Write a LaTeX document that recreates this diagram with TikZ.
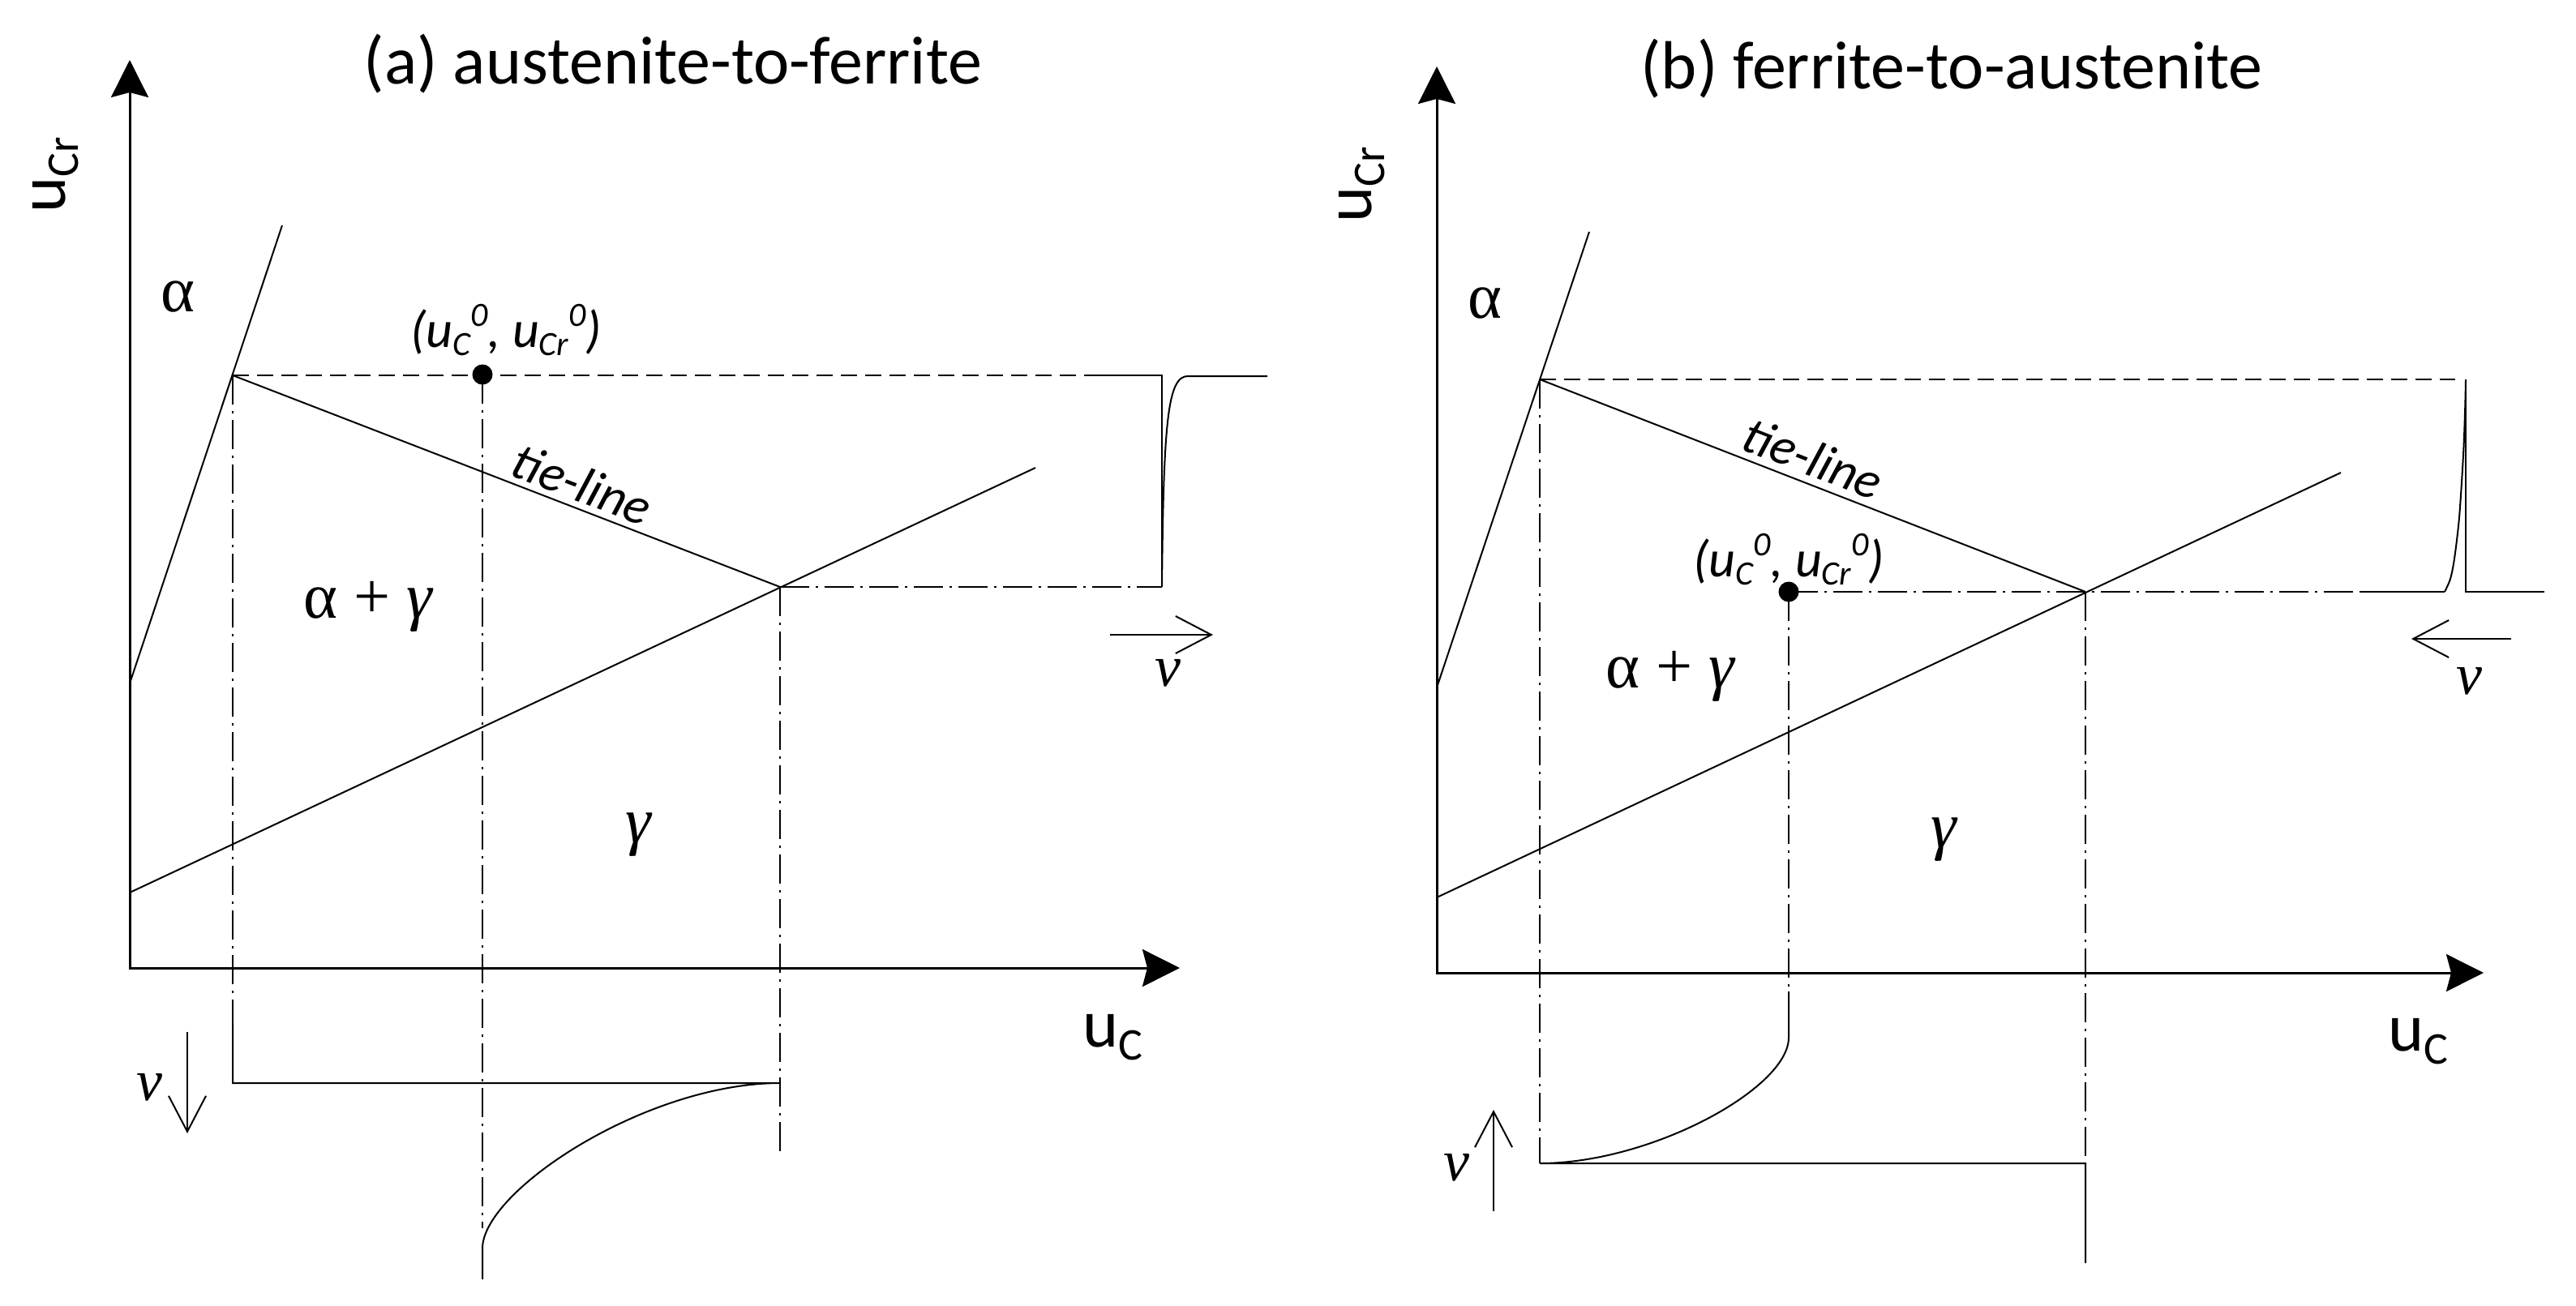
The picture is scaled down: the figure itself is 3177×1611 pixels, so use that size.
\documentclass[tikz,border=0pt]{standalone}
\usepackage{fontspec}
\setmainfont{Carlito}
\newfontfamily\grk{Liberation Serif}
\usetikzlibrary{arrows.meta}
\newcommand{\axU}[1]{u\raisebox{-16pt}{\fontsize{56}{60}\selectfont #1}}
\newcommand{\lsub}[1]{\raisebox{-10pt}{\fontsize{42}{44}\selectfont #1}}
\newcommand{\lsup}[1]{\raisebox{26pt}{\fontsize{42}{44}\selectfont #1}}
\newcommand{\ptlab}{(u\lsub{C}\lsup{0}, u\lsub{Cr}\lsup{0})}
\newcommand{\gam}{{\itshape γ}}
\begin{document}
\begin{tikzpicture}[x=1pt,y=-1pt,
  axis/.style={line width=3pt,{Stealth[length=46pt,width=46pt,inset=6pt]}-{Stealth[length=46pt,width=46pt,inset=6pt]}},
  thinln/.style={line width=2pt},
  dashln/.style={line width=1.8pt,dash pattern=on 20pt off 10pt},
  dd/.style={line width=1.8pt,dash pattern=on 36pt off 8pt on 3pt off 8pt},
  varrow/.style={line width=2pt,-{Straight Barb[length=44pt,width=46pt]}},
  title/.style={font=\fontsize{84}{90}\selectfont,anchor=base,inner sep=0pt},
  axlab/.style={font=\fontsize{84}{90}\selectfont,inner sep=0pt},
  ptl/.style={font=\fontsize{64}{70}\selectfont\itshape,inner sep=0pt},
  phase/.style={font=\fontsize{80}{86}\selectfont\grk,inner sep=0pt},
  vlab/.style={font=\fontsize{72}{78}\selectfont\grk\itshape,inner sep=0pt},
  dot/.style={circle,fill=black,minimum size=25pt,inner sep=0pt}]
\fill[white] (0,0) rectangle (3177,1611);
\useasboundingbox (0,0) rectangle (3177,1611);

% ---------------- panel (a) ----------------
\node[title] (aTitle) at (830,103) {(a) austenite-to-ferrite};
\coordinate (aO) at (160,1194);
\coordinate (aY) at (160,74);
\coordinate (aX) at (1455,1194);
\coordinate (aS1) at (348,278);
\coordinate (aS2) at (160,843);
\coordinate (aG1) at (1277,577);
\coordinate (aG2) at (160,1101);
\coordinate (aP1) at (287,463);
\coordinate (aP2) at (962,724);
\coordinate (aT1) at (1346,463);
\coordinate (aT2) at (1433,463);
\coordinate (aT3) at (1433,724);
\coordinate (aT4) at (1465,464);
\coordinate (aT5) at (1563,464);
\coordinate (aB1) at (287,1262);
\coordinate (aB2) at (287,1336);
\coordinate (aB3) at (962,1336);
\coordinate (aB4) at (595,1540);
\coordinate (aB5) at (595,1578);
\coordinate (aB6) at (595,1515);
\coordinate (aB7) at (962,1423);
\coordinate (aV1s) at (231,1273);
\coordinate (aV1e) at (231,1398);
\coordinate (aV2s) at (1369,783);
\coordinate (aV2e) at (1496,783);
\node[dot] (aDot) at (595,462) {};

\draw[axis] (aY) -- (aO) -- (aX);
\draw[thinln] (aS1) -- (aS2);
\draw[thinln] (aG1) -- (aG2);
\draw[thinln] (aP1) -- (aP2);
\draw[dashln] (aP1) -- (aT1);
\draw[thinln] (aT1) -- (aT2) -- (aT3);
\draw[thinln] (aT3) .. controls (1435,520) and (1440,464) .. (aT4) -- (aT5);
\draw[dd] (aP2) -- (aT3);
\draw[dd] (aP1) -- (aB1);
\draw[thinln] (aB1) -- (aB2) -- (aB3) .. controls (797,1336) and (595,1469) .. (aB4) -- (aB5);
\draw[dd] (aDot.center) -- (aB6);
\draw[dd] (aP2) -- (aB7);
\draw[varrow] (aV1s) -- (aV1e);
\draw[varrow] (aV2s) -- (aV2e);

\node[axlab,rotate=90] (aUCr) at (69,216) {\axU{Cr}};
\node[axlab] (aUC) at (1372,1280) {\axU{C}};
\node[phase] (aAlpha) at (219,366) {α};
\node[phase] (aAG) at (454,748) {α + \gam};
\node[phase] (aGamma) at (787,1030) {\gam};
\node[ptl] (aPt) at (624,407) {\ptlab};
\node[ptl,rotate=-21.1] (aTie) at (718,597) {tie-line};
\node[vlab] (aV1) at (184,1341) {v};
\node[vlab] (aV2) at (1440,830) {v};

% ---------------- panel (b) ----------------
\node[title] (bTitle) at (2407,109) {(b) ferrite-to-austenite};
\coordinate (bO) at (1772,1200);
\coordinate (bY) at (1772,82);
\coordinate (bX) at (3063,1200);
\coordinate (bS1) at (1960,286);
\coordinate (bS2) at (1772,848);
\coordinate (bG1) at (2887,583);
\coordinate (bG2) at (1772,1107);
\coordinate (bP1) at (1899,468);
\coordinate (bP2) at (2572,730);
\coordinate (bT0) at (3028,468);
\coordinate (bT1) at (3041,468);
\coordinate (bT2) at (3041,730);
\coordinate (bT3) at (3138,730);
\coordinate (bT4) at (2913,730);
\coordinate (bT5) at (3015,730);
\coordinate (bB1) at (1899,1435);
\coordinate (bB2) at (2206,1223);
\coordinate (bB3) at (2206,1280);
\coordinate (bB4) at (2572,1435);
\coordinate (bB5) at (2572,1558);
\coordinate (bV1s) at (1842,1494);
\coordinate (bV1e) at (1842,1369);
\coordinate (bV2s) at (3097,788);
\coordinate (bV2e) at (2974,788);
\node[dot] (bDot) at (2206,730) {};

\draw[axis] (bY) -- (bO) -- (bX);
\draw[thinln] (bS1) -- (bS2);
\draw[thinln] (bG1) -- (bG2);
\draw[thinln] (bP1) -- (bP2);
\draw[dashln] (bP1) -- (bT0);
\draw[thinln] (bT1) -- (bT2) -- (bT3);
\draw[dd] (bDot.center) -- (bT4);
\draw[thinln] (bT4) -- (bT5);
\draw[thinln] plot[smooth] coordinates {(3015,730) (3022,714) (3027,689) (3033,638) (3038,561) (3040,510) (3041,469)};
\draw[dd] (bP1) -- (bB1);
\draw[dd] (bDot.center) -- (bB2);
\draw[dd] (bP2) -- (bB4);
\draw[thinln] (bB2) -- (bB3) .. controls (2206,1342) and (2037,1435) .. (bB1) -- (bB4) -- (bB5);
\draw[varrow] (bV1s) -- (bV1e);
\draw[varrow] (bV2s) -- (bV2e);

\node[axlab,rotate=90] (bUCr) at (1680,228) {\axU{Cr}};
\node[axlab] (bUC) at (2982,1285) {\axU{C}};
\node[phase] (bAlpha) at (1831,374) {α};
\node[phase] (bAG) at (2060,834) {α + \gam};
\node[phase] (bGamma) at (2397,1036) {\gam};
\node[ptl] (bPt) at (2206,690) {\ptlab};
\node[ptl,rotate=-21.3] (bTie) at (2236,565) {tie-line};
\node[vlab] (bV1) at (1796,1440) {v};
\node[vlab] (bV2) at (3045,840) {v};
\end{tikzpicture}
\end{document}
